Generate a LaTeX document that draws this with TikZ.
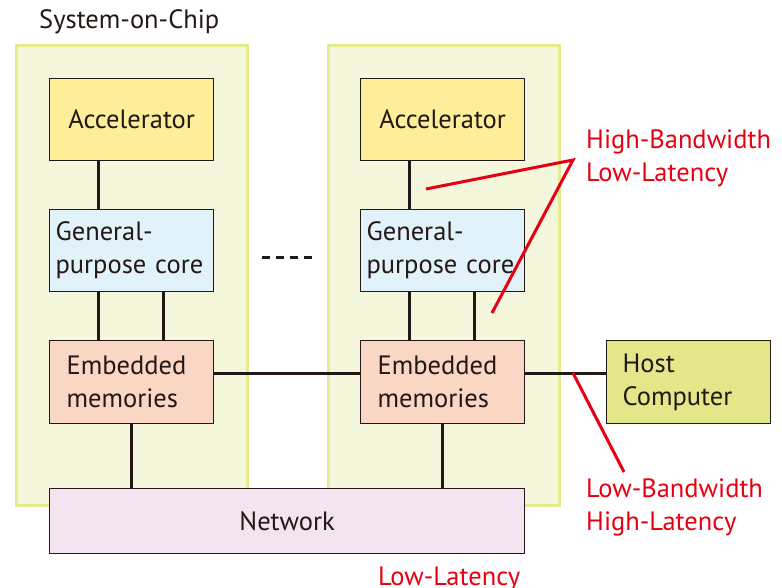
\documentclass[tikz,border=0pt]{standalone}
\usepackage{fontspec}
\setmainfont{PT Sans}
\definecolor{ink}{HTML}{231815}
\definecolor{socfill}{HTML}{F4F7DC}
\definecolor{socedge}{HTML}{E5EB8C}
\definecolor{accfill}{HTML}{FFEE99}
\definecolor{cpufill}{HTML}{E1F2FA}
\definecolor{memfill}{HTML}{FAD6C5}
\definecolor{hostfill}{HTML}{E2E78A}
\definecolor{netfill}{HTML}{F3E5F0}
\definecolor{hl}{HTML}{E60012}
\tikzset{
  txt/.style={font=\fontsize{26.5}{33}\selectfont, text=ink},
  soc/.style={draw=socedge, fill=socfill, line width=3pt, anchor=north west,
    inner sep=0pt, minimum width=231pt, minimum height=460pt},
  blk/.style={draw=ink, line width=1.2pt, anchor=north west, inner sep=0pt, txt},
  accbox/.style={blk, fill=accfill, minimum width=164pt, minimum height=82pt},
  cpubox/.style={blk, fill=cpufill, minimum height=82pt, text width=152pt,
    inner xsep=6pt, align=left},
  membox/.style={blk, fill=memfill, minimum height=83pt, text width=130pt,
    inner xsep=17pt, align=left},
  wire/.style={draw=ink, line width=3pt},
  note/.style={draw=hl, line width=3pt},
  notetxt/.style={font=\fontsize{26.5}{33}\selectfont, text=hl, align=left, inner sep=0pt},
}
\begin{document}
\begin{tikzpicture}[x=1pt, y=-1pt]
\useasboundingbox (0,0) rectangle (782,588);

% system-on-chip panels
\node[soc] (soc1) at (15,44) {};
\node[soc] (soc2) at (327,44) {};
\node[txt, anchor=base west, inner sep=0pt] (soclabel) at (39,29) {System-on-Chip};

% left chip
\node[accbox] (acc1) at (49,78) {Accelerator};
\node[cpubox] (cpu1) at (49,209) {General-\\purpose core};
\node[membox] (mem1) at (49,340) {Embedded\\memories};

% right chip
\node[accbox] (acc2) at (360,78) {Accelerator};
\node[cpubox] (cpu2) at (360,209) {General-\\purpose core};
\node[membox] (mem2) at (360,340) {Embedded\\memories};

% host and network
\node[blk, fill=hostfill, minimum height=83pt, text width=132pt, inner xsep=16pt, align=left]
  (host) at (606,340) {Host\\Computer};
\node[blk, fill=netfill, minimum width=475pt, minimum height=65pt] (net) at (49,488) {Network};

% wiring
\foreach \c in {1,2} {
  \draw[wire] ([xshift=-33pt]acc\c.south) -- ([xshift=-33pt]cpu\c.north);
  \draw[wire] ([xshift=-33pt]cpu\c.south) -- ([xshift=-33pt]mem\c.north);
  \draw[wire] ([xshift=32pt]cpu\c.south) -- ([xshift=32pt]mem\c.north);
  \draw[wire] (mem\c.south) -- (mem\c.south |- net.north);
}
\draw[wire] ([yshift=8.5pt]mem1.east) -- ([yshift=8.5pt]mem2.west);
\draw[wire] ([yshift=8.5pt]mem2.east) -- ([yshift=8.5pt]host.west);

% ellipsis between chips
\coordinate (dotsA) at (262,258);
\coordinate (dotsB) at (312,258);
\draw[wire, dash pattern=on 8pt off 6pt] (dotsA) -- (dotsB);

% annotations
\node[notetxt, anchor=west] (hbll) at (586,158) {High-Bandwidth\\Low-Latency};
\coordinate (hbapex) at (573,160);
\coordinate (hbA) at (426,189);
\coordinate (hbB) at (492,313);
\draw[note] (hbA) -- (hbapex) -- (hbB);

\node[notetxt, anchor=west] (lbhl) at (586,507) {Low-Bandwidth\\High-Latency};
\coordinate (lbtop) at (573,373);
\coordinate (lbend) at (624,472);
\draw[note] (lbtop) -- (lbend);

\node[notetxt, anchor=base west] (ll) at (378,585) {Low-Latency};
\end{tikzpicture}
\end{document}
